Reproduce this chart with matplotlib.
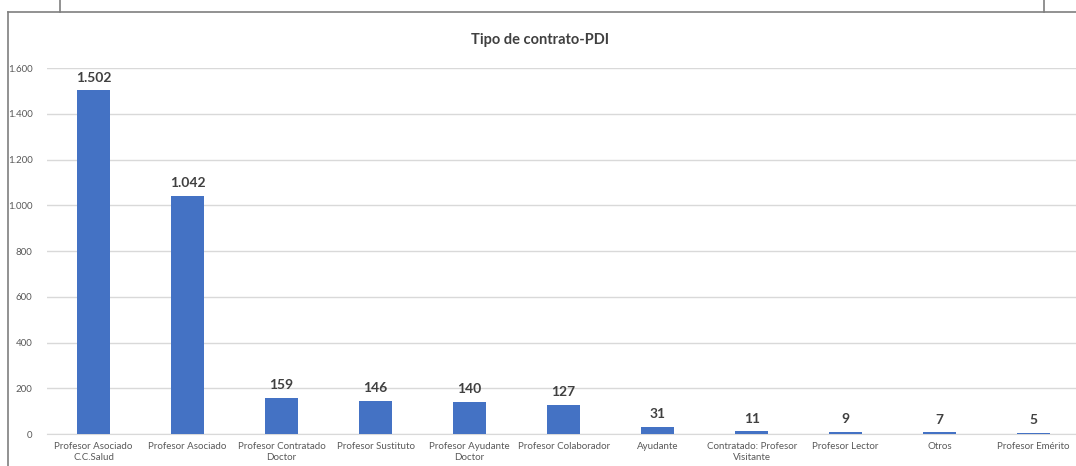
import matplotlib.pyplot as plt
from matplotlib.lines import Line2D

# --- data ---
categorias = ["Profesor Asociado\nC.C.Salud", "Profesor Asociado", "Profesor Contratado\nDoctor",
              "Profesor Sustituto", "Profesor Ayudante\nDoctor", "Profesor Colaborador", "Ayudante",
              "Contratado: Profesor\nVisitante", "Profesor Lector", "Otros", "Profesor Emérito"]
valores = [1502, 1042, 159, 146, 140, 127, 31, 11, 9, 7, 5]
yticks = [0, 200, 400, 600, 800, 1000, 1200, 1400, 1600]


def miles(v):
    return f"{v:,}".replace(",", ".")


plt.rcParams["font.family"] = ["Lato", "DejaVu Sans"]

W, H = 1076, 466
fig = plt.figure(figsize=(W / 100, H / 100), dpi=100)
ax = fig.add_axes([46.5 / W, (H - 434) / H, (W - 46.5) / W, 366 / H])

x = range(len(valores))
ax.bar(x, valores, width=0.35, color="#4472C4", zorder=3)
for i, v in zip(x, valores):
    ax.text(i, v + 30, miles(v), ha="center", va="bottom", fontsize=10,
            fontweight="bold", color="#404040", clip_on=False)

ax.set_xlim(-0.5, 10.45)
ax.set_ylim(0, 1600)
ax.set_yticks(yticks)
ax.set_yticklabels([miles(t) for t in yticks], fontsize=7, color="#595959")
ax.set_xticks(list(x))
ax.set_xticklabels(categorias, fontsize=7, color="#595959", linespacing=1.3)
ax.tick_params(length=0, pad=6)
ax.tick_params(axis="y", pad=10)
ax.grid(axis="y", color="#d9d9d9", linewidth=1, zorder=0)
for s in ["top", "right", "left"]:
    ax.spines[s].set_visible(False)
ax.spines["bottom"].set_color("#d9d9d9")

fig.text(540 / W, 1 - 40 / H, "Tipo de contrato-PDI", ha="center", va="center",
         fontsize=10.5, fontweight="bold", color="#404040")

# marco exterior
gris = "#7f7f7f"
y0 = 1 - 12 / H
fig.add_artist(Line2D([8 / W, 1], [y0, y0], color=gris, lw=1.2))
fig.add_artist(Line2D([8 / W, 8 / W], [0, y0], color=gris, lw=1.2))
fig.add_artist(Line2D([60 / W, 60 / W], [y0, 1], color=gris, lw=1.2))
fig.add_artist(Line2D([1044 / W, 1044 / W], [y0, 1], color=gris, lw=1.2))

plt.savefig("out.png", dpi=100)
